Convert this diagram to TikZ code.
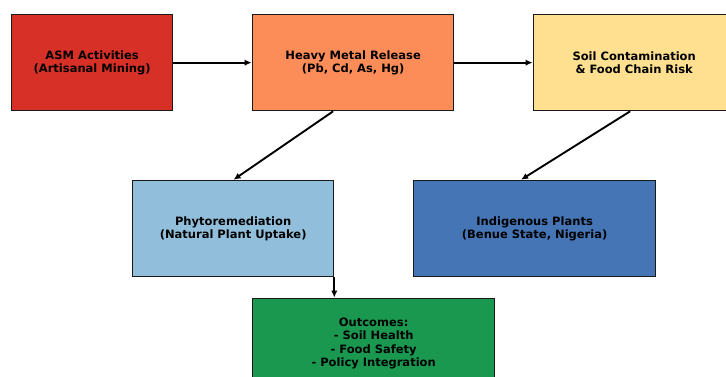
\documentclass[tikz,border=0pt]{standalone}
\usepackage{fontspec}
\setmainfont{DejaVu Sans}
\usetikzlibrary{arrows.meta}
\definecolor{cred}{HTML}{D73027}
\definecolor{corange}{HTML}{FC8D59}
\definecolor{cyellow}{HTML}{FEE090}
\definecolor{clblue}{HTML}{91BFDB}
\definecolor{cblue}{HTML}{4575B4}
\definecolor{cgreen}{HTML}{1A9850}
\definecolor{edge}{HTML}{1A1A1A}
\tikzset{
  box/.style={draw=edge, line width=1.3pt, align=center, font=\bfseries\fontsize{11.5}{13.4}\selectfont, inner sep=0pt},
  conn/.style={draw=black, line width=1.9pt, -{Latex[length=7pt,width=6.5pt]}, shorten >=0.5pt}
}
\begin{document}
\begin{tikzpicture}[x=1pt,y=-1pt]
\useasboundingbox (0,0) rectangle (726,377);
\node[box, fill=cred, minimum width=161pt, minimum height=96pt, anchor=north west] (asm) at (11,14) {ASM Activities\\(Artisanal Mining)};
\node[box, fill=corange, minimum width=201pt, minimum height=96pt, anchor=north west] (hm) at (252,14) {Heavy Metal Release\\(Pb, Cd, As, Hg)};
\node[box, fill=cyellow, minimum width=201pt, minimum height=96pt, anchor=north west] (soil) at (533,14) {Soil Contamination\\\& Food Chain Risk};
\node[box, fill=clblue, minimum width=201pt, minimum height=96pt, anchor=north west] (phy) at (132,180) {Phytoremediation\\(Natural Plant Uptake)};
\node[box, fill=cblue, minimum width=242pt, minimum height=96pt, anchor=north west] (ind) at (413,180) {Indigenous Plants\\(Benue State, Nigeria)};
\node[box, fill=cgreen, minimum width=242pt, minimum height=90pt, anchor=north west] (out) at (252,298) {Outcomes:\\- Soil Health\\- Food Safety\\- Policy Integration};
\draw[conn] (asm.east) -- (hm.west);
\draw[conn] (hm.east) -- (soil.west);
\draw[conn] (hm.south) ++(-20,0) coordinate (hs) (hs) -- (phy.north);
\draw[conn] (soil.south) ++(-4,0) coordinate (ss) (ss) -- ([xshift=-14pt]ind.north);
\draw[conn] (phy.south east) -- (phy.south east |- out.north);
\end{tikzpicture}
\end{document}
